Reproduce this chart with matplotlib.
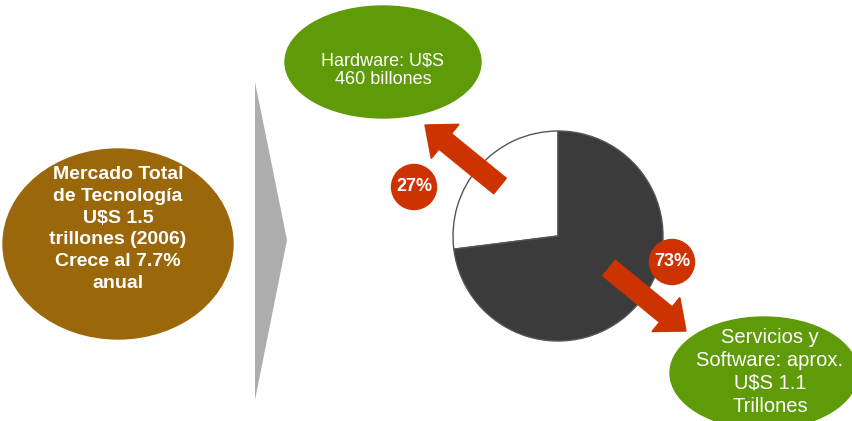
import matplotlib
matplotlib.use("Agg")
import matplotlib.pyplot as plt
from matplotlib.patches import Ellipse, Circle, Polygon, FancyArrow

plt.rcParams['font.family'] = ['Liberation Sans', 'DejaVu Sans']

# Data
segments = ["Hardware", "Servicios y Software"]
shares = [27, 73]
share_labels = ["27%", "73%"]
market_text = "Mercado Total\nde Tecnología\nU$S 1.5\ntrillones (2006)\nCrece al 7.7%\nanual"
hardware_text = "Hardware: U$S\n460 billones"
software_text = "Servicios y\nSoftware: aprox.\nU$S 1.1\nTrillones"

W, H = 853, 421
def Y(y):
    return H - y

fig = plt.figure(figsize=(W / 100, H / 100), dpi=100)
ax = fig.add_axes([0, 0, 1, 1])

GREEN = '#5f9b08'
BROWN = '#9a670b'
RED = '#cc3300'
DARK = '#3b3b3b'

# Pie
ax.pie(shares, colors=['white', DARK], startangle=90, counterclock=True,
       center=(558, Y(236)), radius=105,
       wedgeprops=dict(edgecolor='#555555', linewidth=1.0))
ax.set_xlim(0, W)
ax.set_ylim(0, H)
ax.set_aspect('equal')
ax.axis('off')

# Brown market ellipse
ax.add_patch(Ellipse((118, Y(244)), 230, 190, color=BROWN, zorder=1))
ax.text(118, Y(229), market_text, ha='center', va='center', color='white',
        fontsize=14, fontweight='bold', linespacing=1.36, zorder=2)

# Gray triangle
ax.add_patch(Polygon([(255, Y(82)), (287, Y(240)), (255, Y(400))], closed=True,
                     facecolor='#adadad', edgecolor='none', zorder=1))

# Hardware ellipse
ax.add_patch(Ellipse((383, Y(62)), 196, 112, color=GREEN, zorder=3))
ax.text(383, Y(70), hardware_text, ha='center', va='center', color='white',
        fontsize=13, linespacing=1.08, zorder=4)

# Software ellipse
ax.add_patch(Ellipse((764, Y(373)), 188, 112, color=GREEN, zorder=3))
ax.text(770, Y(372), software_text, ha='center', va='center', color='white',
        fontsize=14.5, linespacing=1.25, zorder=4)

# Arrows
ax.add_patch(FancyArrow(500, Y(186), 425 - 500, Y(125) - Y(186), width=20,
                        head_width=44, head_length=26, length_includes_head=True,
                        color=RED, zorder=5))
ax.add_patch(FancyArrow(609, Y(268), 686 - 609, Y(331) - Y(268), width=20,
                        head_width=44, head_length=26, length_includes_head=True,
                        color=RED, zorder=5))

# Percentage circles
for (cx, cy), lab in zip([(414, 187), (672, 262)], share_labels):
    ax.add_patch(Circle((cx, Y(cy)), 22.5, color=RED, zorder=6))
    ax.text(cx, Y(cy), lab, ha='center', va='center', color='white',
            fontsize=13, fontweight='bold', zorder=7)

fig.savefig('out.png', dpi=100)
